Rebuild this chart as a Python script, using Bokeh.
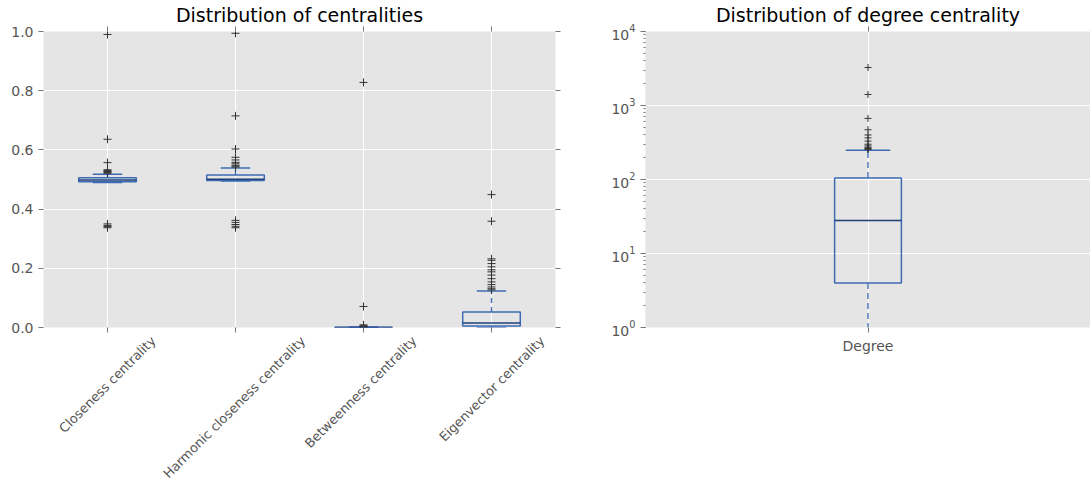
import math
from bokeh.plotting import figure
from bokeh.layouts import row
from bokeh.models import Range1d, FixedTicker, LinearAxis, PrintfTickFormatter, LogTicker
from bokeh.embed import file_html
from bokeh.resources import INLINE

# ---------------- data ----------------
categories = ["Closeness centrality", "Harmonic closeness centrality",
              "Betweenness centrality", "Eigenvector centrality"]
box_q1 = [0.492, 0.497, 0.0, 0.005]
box_median = [0.498, 0.501, 0.0003, 0.015]
box_q3 = [0.506, 0.515, 0.0008, 0.052]
whisker_low = [0.490, 0.495, 0.0, 0.0]
whisker_high = [0.518, 0.539, 0.002, 0.123]

outliers_closeness = [0.99, 0.636, 0.557, 0.533, 0.530, 0.527, 0.524, 0.521,
                      0.350, 0.345, 0.341, 0.337]
outliers_harmonic = [0.994, 0.715, 0.603, 0.575, 0.566, 0.558, 0.553, 0.548,
                     0.545, 0.542, 0.362, 0.355, 0.348, 0.342, 0.337]
outliers_betweenness = [0.828, 0.071, 0.009, 0.006, 0.004, 0.003, 0.002]
outliers_eigenvector = [0.449, 0.359, 0.232, 0.227, 0.216, 0.205, 0.195, 0.188,
                        0.177, 0.165, 0.154, 0.145, 0.137, 0.131, 0.127]
outliers_all = [outliers_closeness, outliers_harmonic, outliers_betweenness, outliers_eigenvector]

degree_label = "Degree"
degree_q1 = [4]
degree_median = [28]
degree_q3 = [105]
degree_whisker_low = [1]
degree_whisker_high = [248]
degree_outliers = [3260, 1410, 670, 470, 400, 365, 330, 300, 285, 272, 265, 260, 255]

left_yticks = [0.0, 0.2, 0.4, 0.6, 0.8, 1.0]

# ---------------- style ----------------
FONT = "DejaVu Sans"
BG = "#E5E5E5"
BOX = "#3d6bb3"
MED = "#1d3f7a"
TICK = "#777777"
LABEL = "#555555"
FLIER = "#333333"
TITLE_FS = "19px"
TICK_FS = "14px"
ROT_FS = 12.9


def style_fig(p):
    p.background_fill_color = BG
    p.border_fill_color = "white"
    p.outline_line_color = None
    p.grid.grid_line_color = "white"
    p.grid.grid_line_width = 1
    p.title.text_font = FONT
    p.title.text_font_size = TITLE_FS
    p.title.text_font_style = "normal"
    p.title.align = "center"
    p.title.text_color = "black"
    p.title.standoff = 2


def style_axis(ax, labels=True):
    ax.axis_line_color = None
    ax.major_tick_line_color = TICK
    ax.major_tick_out = 5
    ax.major_tick_in = 0
    ax.minor_tick_line_color = None
    ax.major_label_text_font = FONT
    ax.major_label_text_font_size = TICK_FS
    ax.major_label_text_color = LABEL
    if not labels:
        ax.major_label_text_font_size = "0px"
        ax.major_label_text_color = None
        ax.major_label_standoff = 0


# ---------------- left plot ----------------
n = len(categories)
xs = list(range(1, n + 1))
FRAME_W1 = 512
BW = 0.45
CW = 0.23

p1 = figure(width=43 + FRAME_W1 + 20, height=489, x_range=Range1d(0.5, n + 0.5), y_range=Range1d(0, 1.0),
            output_backend="svg", toolbar_location=None, title="Distribution of centralities",
            min_border_left=43, min_border_right=20, min_border_top=31, min_border_bottom=162)
style_fig(p1)
bottom1 = p1.xaxis[0]
left1 = p1.yaxis[0]
right1 = LinearAxis()
top1 = LinearAxis()
p1.add_layout(right1, "right")
p1.add_layout(top1, "above")
for ax in (bottom1, top1):
    ax.ticker = FixedTicker(ticks=xs)
    style_axis(ax, labels=False)
for ax in (left1, right1):
    ax.ticker = FixedTicker(ticks=left_yticks)
    ax.formatter = PrintfTickFormatter(format="%.1f")
style_axis(left1)
style_axis(right1, labels=False)

# rotated category labels: an extra label-only axis whose ticks are nudged so that
# each rotated label is centred on its category (matplotlib ha="center" look)
px_per_unit = FRAME_W1 / n
label_ticks = [x + (0.3535 * 0.525 * len(name) * ROT_FS - 2) / px_per_unit for x, name in zip(xs, categories)]
lab_axis = LinearAxis(ticker=FixedTicker(ticks=label_ticks),
                      major_label_overrides={t: name for t, name in zip(label_ticks, categories)},
                      major_label_orientation=math.pi / 4)
lab_axis.axis_line_color = None
lab_axis.major_tick_line_color = None
lab_axis.major_tick_out = 0
lab_axis.major_tick_in = 0
lab_axis.minor_tick_line_color = None
lab_axis.major_label_standoff = 6
lab_axis.major_label_text_font = FONT
lab_axis.major_label_text_font_size = f"{ROT_FS}px"
lab_axis.major_label_text_color = LABEL
p1.add_layout(lab_axis, "below")

p1.xgrid.ticker = FixedTicker(ticks=xs)
p1.ygrid.ticker = FixedTicker(ticks=left_yticks)

p1.segment(x0=xs, x1=xs, y0=box_q3, y1=whisker_high, line_color=BOX, line_width=1.3, line_dash="5 4")
p1.segment(x0=xs, x1=xs, y0=box_q1, y1=whisker_low, line_color=BOX, line_width=1.3, line_dash="5 4")
p1.segment(x0=[x - CW / 2 for x in xs], x1=[x + CW / 2 for x in xs], y0=whisker_high, y1=whisker_high,
           line_color=BOX, line_width=1.5)
p1.segment(x0=[x - CW / 2 for x in xs], x1=[x + CW / 2 for x in xs], y0=whisker_low, y1=whisker_low,
           line_color=BOX, line_width=1.5)
p1.vbar(x=xs, bottom=box_q1, top=box_q3, width=BW, fill_color=None, line_color=BOX, line_width=1.5)
p1.segment(x0=[x - BW / 2 for x in xs], x1=[x + BW / 2 for x in xs], y0=box_median, y1=box_median,
           line_color=MED, line_width=1.5)
fx, fy = [], []
for x, outs in zip(xs, outliers_all):
    fx += [x] * len(outs)
    fy += outs
p1.scatter(x=fx, y=fy, marker="cross", size=8, line_color=FLIER, line_width=1)

# ---------------- right plot ----------------
dx = [1]
DBW = 0.15
DCW = 0.10
p2 = figure(width=1090 - p1.width, height=489, x_range=Range1d(0.5, 1.5), y_range=Range1d(1, 10 ** 4),
            y_axis_type="log", output_backend="svg", toolbar_location=None,
            title="Distribution of degree centrality",
            min_border_left=70, min_border_right=0, min_border_top=31, min_border_bottom=162)
style_fig(p2)
bottom2 = p2.xaxis[0]
left2 = p2.yaxis[0]
top2 = LinearAxis()
p2.add_layout(top2, "above")
for ax in (bottom2, top2):
    ax.ticker = FixedTicker(ticks=dx)
bottom2.major_label_overrides = {1: degree_label}
style_axis(bottom2)
style_axis(top2, labels=False)
left2.ticker = LogTicker(desired_num_ticks=5, num_minor_ticks=10)
style_axis(left2)
left2.minor_tick_line_color = TICK
left2.minor_tick_out = 2
left2.minor_tick_in = 0
p2.xgrid.ticker = FixedTicker(ticks=dx)

p2.segment(x0=dx, x1=dx, y0=degree_q3, y1=degree_whisker_high, line_color=BOX, line_width=1.3, line_dash="6 4")
p2.segment(x0=dx, x1=dx, y0=degree_q1, y1=degree_whisker_low, line_color=BOX, line_width=1.3, line_dash="6 4")
p2.segment(x0=[x - DCW / 2 for x in dx], x1=[x + DCW / 2 for x in dx], y0=degree_whisker_high,
           y1=degree_whisker_high, line_color=BOX, line_width=1.5)
p2.vbar(x=dx, bottom=degree_q1, top=degree_q3, width=DBW, fill_color=None, line_color=BOX, line_width=1.5)
p2.segment(x0=[x - DBW / 2 for x in dx], x1=[x + DBW / 2 for x in dx], y0=degree_median, y1=degree_median,
           line_color=MED, line_width=1.5)
p2.scatter(x=[1] * len(degree_outliers), y=degree_outliers, marker="cross", size=7,
           line_color=FLIER, line_width=1)

layout = row(p1, p2)
open("out.html", "w").write(file_html(layout, INLINE))
